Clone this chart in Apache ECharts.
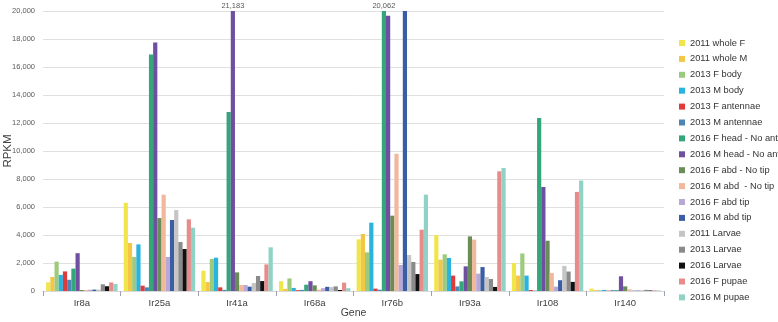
<!DOCTYPE html>
<html>
<head>
<meta charset="utf-8">
<script src="https://cdn.jsdelivr.net/npm/echarts@6/dist/echarts.min.js"></script>
<style>
html,body{margin:0;padding:0;background:#fff;}
#c{width:778px;height:322px;}
</style>
</head>
<body>
<div id="c"></div>
<script>
const genes = ['Ir8a','Ir25a','Ir41a','Ir68a','Ir76b','Ir93a','Ir108','Ir140'];
const seriesNames = ['2011 whole F','2011 whole M','2013 F body','2013 M body','2013 F antennae','2013 M antennae','2016 F head - No ant','2016 M head - No ant','2016 F abd - No tip','2016 M abd  - No tip','2016 F abd tip','2016 M abd tip','2011 Larvae','2013 Larvae','2016 Larvae','2016 F pupae','2016 M pupae'];
const yTicks = [0,2000,4000,6000,8000,10000,12000,14000,16000,18000,20000];

const v2011WholeF   = [620, 6300, 1450, 700, 3690, 4000, 2000, 170];
const v2011WholeM   = [1000, 3430, 640, 150, 4070, 2240, 1100, 60];
const v2013FBody    = [2100, 2430, 2290, 900, 2760, 2620, 2680, 50];
const v2013MBody    = [1150, 3330, 2380, 220, 4880, 2360, 1100, 80];
const v2013FAnt     = [1400, 380, 260, 60, 170, 1100, 70, 30];
const v2013MAnt     = [800, 260, 80, 80, 90, 330, 30, 60];
const v2016FHead    = [1600, 16900, 12780, 450, 20062, 690, 12360, 60];
const v2016MHead    = [2700, 17750, 21183, 700, 19660, 1760, 7430, 1050];
const v2016FAbdNT   = [70, 5210, 1330, 400, 5380, 3900, 3590, 330];
const v2016MAbdNT   = [70, 6880, 430, 100, 9800, 3670, 1290, 120];
const v2016FAbdTip  = [90, 2430, 430, 200, 1860, 1240, 310, 50];
const v2016MAbdTip  = [100, 5070, 310, 300, 20000, 1710, 770, 30];
const v2011Larvae   = [100, 5780, 570, 280, 2570, 1000, 1790, 60];
const v2013Larvae   = [480, 3500, 1070, 330, 2070, 860, 1390, 80];
const v2016Larvae   = [340, 3000, 710, 70, 1210, 290, 650, 40];
const v2016FPupae   = [610, 5120, 1900, 600, 4380, 8550, 7080, 50];
const v2016MPupae   = [500, 4520, 3120, 200, 6880, 8790, 7890, 40];

const allValues = [v2011WholeF, v2011WholeM, v2013FBody, v2013MBody, v2013FAnt, v2013MAnt, v2016FHead, v2016MHead, v2016FAbdNT, v2016MAbdNT, v2016FAbdTip, v2016MAbdTip, v2011Larvae, v2013Larvae, v2016Larvae, v2016FPupae, v2016MPupae];

const colors = ['#f0e64c','#f3c646','#9dcb7e','#29b3df','#e03b3b','#4b86b6','#34a67a','#6e4fa0','#6a8d58','#f2b89b','#b9a7d6','#3a5ea6','#c5c5c5','#8a8a8a','#111111','#e88b8b','#90d2c5'];

const yMax = 20000;
const fontFam = 'Liberation Sans, Arial, sans-serif';

const series = seriesNames.map((name, i) => ({
  name: name,
  type: 'bar',
  barGap: '0%',
  barCategoryGap: '8%',
  clip: true,
  itemStyle: { color: colors[i] },
  data: allValues[i].map(v => v > yMax ? {
    value: v,
    label: {
      show: true, position: 'top', distance: 1,
      formatter: (p) => p.value.toLocaleString('en-US'),
      fontSize: 7.5, color: '#595959', fontFamily: fontFam
    }
  } : v)
}));

const chart = echarts.init(document.getElementById('c'), null, {renderer: 'canvas'});
chart.setOption({
  animation: false,
  backgroundColor: '#ffffff',
  color: colors,
  grid: { left: 43, right: 114, top: 11, bottom: 31, containLabel: false, outerBoundsMode: 'none' },
  legend: {
    orient: 'vertical',
    left: 674, top: 32,
    itemWidth: 6, itemHeight: 6,
    itemGap: 3.9,
    icon: 'rect',
    selectedMode: false,
    textStyle: { fontSize: 9.3, lineHeight: 12, color: '#333333', fontFamily: fontFam },
    data: seriesNames
  },
  xAxis: {
    type: 'category',
    data: genes,
    name: 'Gene',
    nameLocation: 'middle',
    nameGap: 17,
    nameMoveOverlap: false,
    nameTextStyle: { fontSize: 10.5, color: '#404040', fontFamily: fontFam },
    axisLine: { show: true, lineStyle: { color: '#d9d9d9' } },
    axisTick: { show: true, length: 5, lineStyle: { color: '#a0a0b0' } },
    axisLabel: { fontSize: 9.5, color: '#404040', margin: 7, fontFamily: fontFam }
  },
  yAxis: {
    type: 'value',
    min: yTicks[0], max: yTicks[yTicks.length - 1], interval: yTicks[1] - yTicks[0],
    name: 'RPKM',
    nameLocation: 'middle',
    nameGap: 29,
    nameMoveOverlap: false,
    nameRotate: 90,
    nameTextStyle: { fontSize: 11.5, color: '#404040', fontFamily: fontFam },
    axisLine: { show: false },
    axisTick: { show: false },
    splitLine: { lineStyle: { color: '#e0e0e0' } },
    axisLabel: {
      fontSize: 7.5, color: '#595959', margin: 8, fontFamily: fontFam,
      formatter: (v) => v.toLocaleString('en-US')
    }
  },
  series: series
});
</script>
</body>
</html>
